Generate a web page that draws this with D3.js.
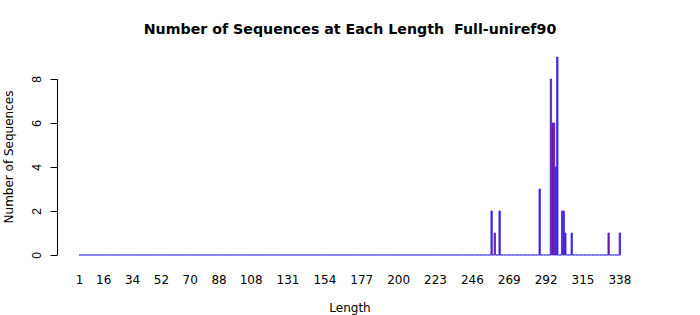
<!DOCTYPE html>
<html>
<head>
<meta charset="utf-8">
<script src="https://cdn.jsdelivr.net/npm/d3@7"></script>
<style>
  body { margin: 0; background: #fff; }
  svg { display: block; font-family: "DejaVu Sans", sans-serif; }
</style>
</head>
<body>
<div id="chart"></div>
<script>
// lengths that have at least one sequence, and how many
const lengths = [258, 260, 263, 288, 295, 296, 297, 298, 299, 302, 303, 304, 308, 331, 338];
const counts  = [2, 1, 2, 3, 8, 6, 6, 4, 9, 2, 2, 1, 1, 1, 1];
const minLen = 1, maxLen = 338;
const xTickLabels = [1, 16, 34, 52, 70, 88, 108, 131, 154, 177, 200, 223, 246, 269, 292, 315, 338];
const yTicks = [0, 2, 4, 6, 8];

const W = 700, H = 315;
const svg = d3.select("#chart").append("svg").attr("width", W).attr("height", H);

// every length gets a bar, zeros included (they draw the blue base line)
const countOf = new Map(lengths.map((l, i) => [l, counts[i]]));
const allLens = d3.range(minLen, maxLen + 1);
const data = allLens.map(l => ({ len: l, n: countOf.get(l) || 0 }));

const x = d3.scaleBand()
    .domain(allLens)
    .range([79, 620.5])
    .paddingInner(0.2 / 1.2)
    .paddingOuter(0);

const y = d3.scaleLinear([0, 8], [255, 79]);

// bars as closed paths so zero heights still show their border
svg.append("g")
    .attr("fill", "#a0005a")
    .attr("stroke", "#3a2cf0")
    .attr("stroke-width", 0.85)
    .selectAll("path")
    .data(data)
    .join("path")
    .attr("d", d => {
        const x0 = x(d.len), x1 = x0 + x.bandwidth();
        return `M${x0},${y(0)}L${x0},${y(d.n)}L${x1},${y(d.n)}L${x1},${y(0)}Z`;
    });

// y axis, R style: no domain past the ticks, labels turned
const yAxis = svg.append("g")
    .attr("transform", "translate(57.5,0)")
    .call(d3.axisLeft(y).tickValues(yTicks).tickSize(7).tickPadding(0).tickSizeOuter(0));
yAxis.select(".domain").attr("d", `M0,${y(0)}V${y(8)}`).attr("stroke", "#000");
yAxis.selectAll(".tick line").attr("stroke", "#000");
yAxis.selectAll(".tick text")
    .attr("font-size", 12)
    .attr("fill", "#000")
    .attr("text-anchor", "middle")
    .attr("x", null).attr("dy", null)
    .attr("transform", "translate(-17,0) rotate(-90)");

// x labels only (no tick marks), one per shown length
svg.append("g")
    .attr("font-size", 12)
    .attr("text-anchor", "middle")
    .selectAll("text")
    .data(xTickLabels)
    .join("text")
    .attr("x", d => x(d) + x.bandwidth() / 2)
    .attr("y", 284)
    .text(d => d);

svg.append("text")
    .attr("x", 350).attr("y", 34)
    .attr("text-anchor", "middle")
    .attr("font-size", 14.2)
    .attr("font-weight", "bold")
    .style("white-space", "pre")
    .text("Number of Sequences at Each Length  Full-uniref90");

svg.append("text")
    .attr("x", 350).attr("y", 312)
    .attr("text-anchor", "middle")
    .attr("font-size", 12)
    .text("Length");

svg.append("text")
    .attr("transform", "translate(13,157) rotate(-90)")
    .attr("text-anchor", "middle")
    .attr("font-size", 12)
    .text("Number of Sequences");
</script>
</body>
</html>
